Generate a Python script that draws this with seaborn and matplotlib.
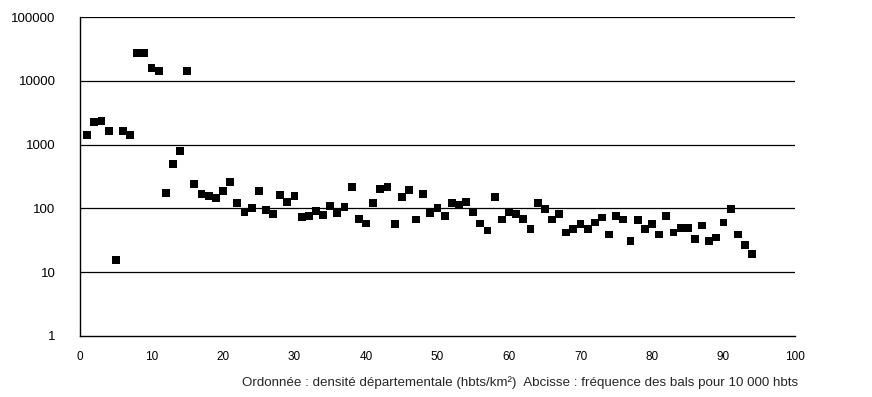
import matplotlib
matplotlib.use("Agg")
import matplotlib.pyplot as plt
import seaborn as sns
import pandas as pd
from matplotlib.ticker import FixedLocator, NullLocator

frequence = list(range(1, 95))
densite = [1430, 2290, 2350, 1630, 15.5, 1630, 1430, 27600, 26900, 15800,
           14200, 172, 500, 804, 14200, 244, 166, 156, 144, 185,
           258, 121, 87, 100, 185, 94, 81, 162, 127, 156,
           74, 76, 91, 78, 110, 86, 104, 218, 68, 58,
           122, 204, 218, 57, 152, 196, 67, 166, 85, 100,
           76, 120, 114, 125, 88, 58, 45, 152, 67, 89,
           81, 68, 48, 123, 98, 67, 81, 42, 47, 57,
           47, 60, 72, 39, 76, 67, 31, 65, 48, 57,
           39, 76, 42, 50, 50, 33, 54, 31, 35, 60,
           97, 39, 27, 19]
x_ticks = [0, 10, 20, 30, 40, 50, 60, 70, 80, 90, 100]
y_ticks = [1, 10, 100, 1000, 10000, 100000]
y_labels = ["1", "10", "100", "1000", "10000", "100000"]
caption = "Ordonnée : densité départementale (hbts/km²)  Abcisse : fréquence des bals pour 10 000 hbts"

df = pd.DataFrame({"frequence": frequence, "densite": densite})

sns.set_style("white")
plt.rcParams["font.family"] = ["Liberation Sans", "DejaVu Sans"]

fig = plt.figure(figsize=(8.72, 3.97), dpi=100)
ax = fig.add_axes([80/872, 1-336/397, 715/872, (336-17)/397])

ax.set_yscale("log")
ax.set_xlim(0, 100)
ax.set_ylim(1, 100000)

for v in y_ticks[1:]:
    ax.axhline(v, color="black", lw=0.9, zorder=1)

sns.scatterplot(data=df, x="frequence", y="densite", marker="s", s=32,
                color="black", edgecolor="none", ax=ax, zorder=3, legend=False)

ax.xaxis.set_major_locator(FixedLocator(x_ticks))
ax.yaxis.set_major_locator(FixedLocator(y_ticks))
ax.yaxis.set_minor_locator(NullLocator())
ax.set_yticklabels(y_labels)
ax.set_xticklabels([str(t) for t in x_ticks])
ax.tick_params(axis="both", direction="inout", length=7, width=0.9,
               colors="black")
ax.tick_params(axis="y", pad=14, labelsize=9.5)
ax.tick_params(axis="x", pad=7, labelsize=8.5)

for side in ["top", "right"]:
    ax.spines[side].set_visible(False)
for side in ["left", "bottom"]:
    ax.spines[side].set_color("black")
    ax.spines[side].set_linewidth(1.0)

ax.set_xlabel("")
ax.set_ylabel("")

fig.text(520/872, 1-383/397, caption, ha="center", va="center", fontsize=9.6)

fig.savefig("out.png", dpi=100)
